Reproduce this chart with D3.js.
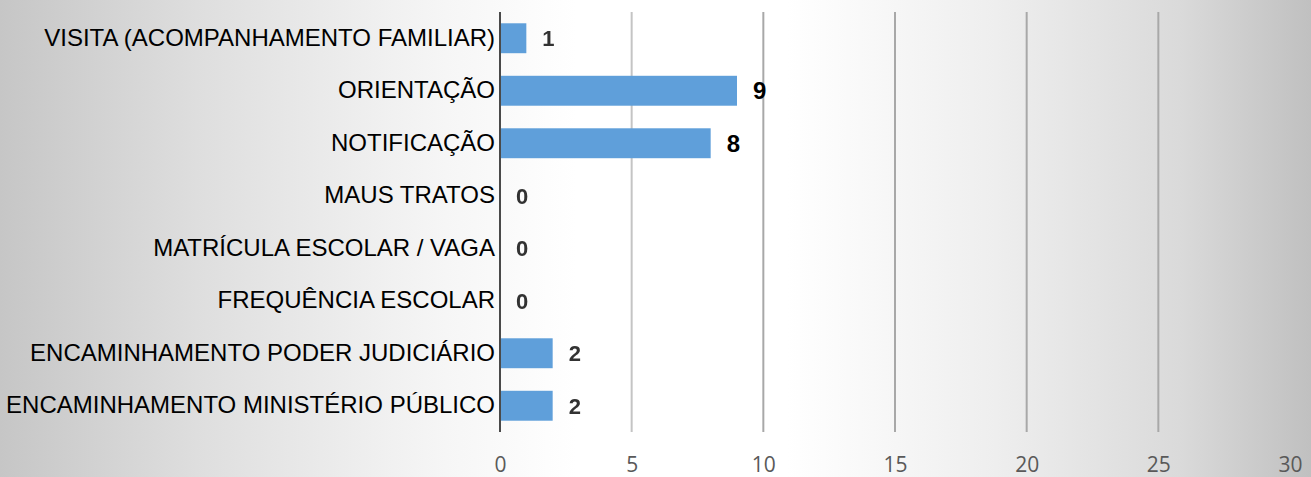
<!DOCTYPE html>
<html>
<head>
<meta charset="utf-8">
<script src="https://cdn.jsdelivr.net/npm/d3@7"></script>
<style>
  html, body { margin: 0; padding: 0; }
  body { width: 1311px; height: 477px; overflow: hidden; }
</style>
</head>
<body>
<svg id="chart" width="1311" height="477"></svg>
<script>
// Atendimentos por tipo
const categories = [
  "VISITA (ACOMPANHAMENTO FAMILIAR)",
  "ORIENTAÇÃO",
  "NOTIFICAÇÃO",
  "MAUS TRATOS",
  "MATRÍCULA ESCOLAR / VAGA",
  "FREQUÊNCIA ESCOLAR",
  "ENCAMINHAMENTO PODER JUDICIÁRIO",
  "ENCAMINHAMENTO MINISTÉRIO PÚBLICO"
];
const values = [1, 9, 8, 0, 0, 0, 2, 2];
const tickValues = [0, 5, 10, 15, 20, 25, 30];

const W = 1311, H = 477;
const margin = { top: 12, right: 21, bottom: 45, left: 500 };

const svg = d3.select("#chart");

// background: grey at both sides, white in the middle
const defs = svg.append("defs");
const bg = defs.append("linearGradient").attr("id", "bg")
  .attr("x1", "0%").attr("x2", "100%").attr("y1", "0%").attr("y2", "0%");
[[0, "#c6c6c6"], [0.15, "#dedede"], [0.34, "#f6f6f6"], [0.44, "#ffffff"],
 [0.6, "#ffffff"], [0.76, "#eeeeee"], [0.9, "#dadada"], [1, "#c0c0c0"]]
  .forEach(([o, c]) => bg.append("stop").attr("offset", o).attr("stop-color", c));
svg.append("rect").attr("width", W).attr("height", H).attr("fill", "url(#bg)");

defs.append("filter").attr("id", "soft")
  .append("feGaussianBlur").attr("stdDeviation", 0.6);

const plotTop = margin.top, plotBottom = 432;

const x = d3.scaleLinear().domain([0, 30]).range([margin.left, W - margin.right]);
const y = d3.scaleBand().domain(categories)
  .range([plotTop, plotBottom]).paddingInner(0.43).paddingOuter(0.215);

// vertical gridlines
svg.append("g").attr("filter", "url(#soft)")
  .selectAll("line").data(tickValues.filter(t => t > 0 && t < 30)).join("line")
  .attr("x1", d => x(d)).attr("x2", d => x(d))
  .attr("y1", plotTop).attr("y2", plotBottom)
  .attr("stroke", d => d === 5 ? "#c4c4c4" : "#a8a8a8").attr("stroke-width", 2);

// bars
svg.append("g").selectAll("rect").data(values).join("rect")
  .attr("x", x(0))
  .attr("y", (d, i) => y(categories[i]))
  .attr("width", d => x(d) - x(0))
  .attr("height", y.bandwidth())
  .attr("fill", "#5f9fda");

// value axis line
svg.append("line")
  .attr("x1", x(0)).attr("x2", x(0))
  .attr("y1", plotTop).attr("y2", plotBottom)
  .attr("stroke", "#4a4a4a").attr("stroke-width", 2);

// category labels
const yAxis = d3.axisLeft(y).tickSize(0).tickPadding(4);
const gy = svg.append("g").attr("transform", `translate(${x(0) - 1},0)`).call(yAxis);
gy.select(".domain").remove();
gy.selectAll("text")
  .attr("font-family", "Liberation Sans, Arial, sans-serif")
  .attr("font-size", 24).attr("fill", "#000");

// tick labels along the bottom
const xAxis = d3.axisBottom(x).tickValues(tickValues).tickSize(0).tickPadding(0);
const gx = svg.append("g").attr("transform", `translate(0,465)`).call(xAxis);
gx.select(".domain").remove();
gx.selectAll("text")
  .attr("font-family", "Open Sans, sans-serif")
  .attr("font-size", 21).attr("fill", "#595959").attr("dy", "0.35em");

// value labels
svg.append("g").selectAll("text").data(values).join("text")
  .attr("x", d => x(d) + 16)
  .attr("y", (d, i) => y(categories[i]) + y.bandwidth() / 2)
  .attr("dy", "0.36em")
  .attr("font-family", "Liberation Sans, Arial, sans-serif")
  .attr("font-weight", "bold").attr("font-size", d => d >= 8 ? 24 : 22)
  .attr("fill", d => d >= 8 ? "#000" : "#333")
  .attr("filter", d => d >= 8 ? null : "url(#soft)")
  .text(d => d);
</script>
</body>
</html>
